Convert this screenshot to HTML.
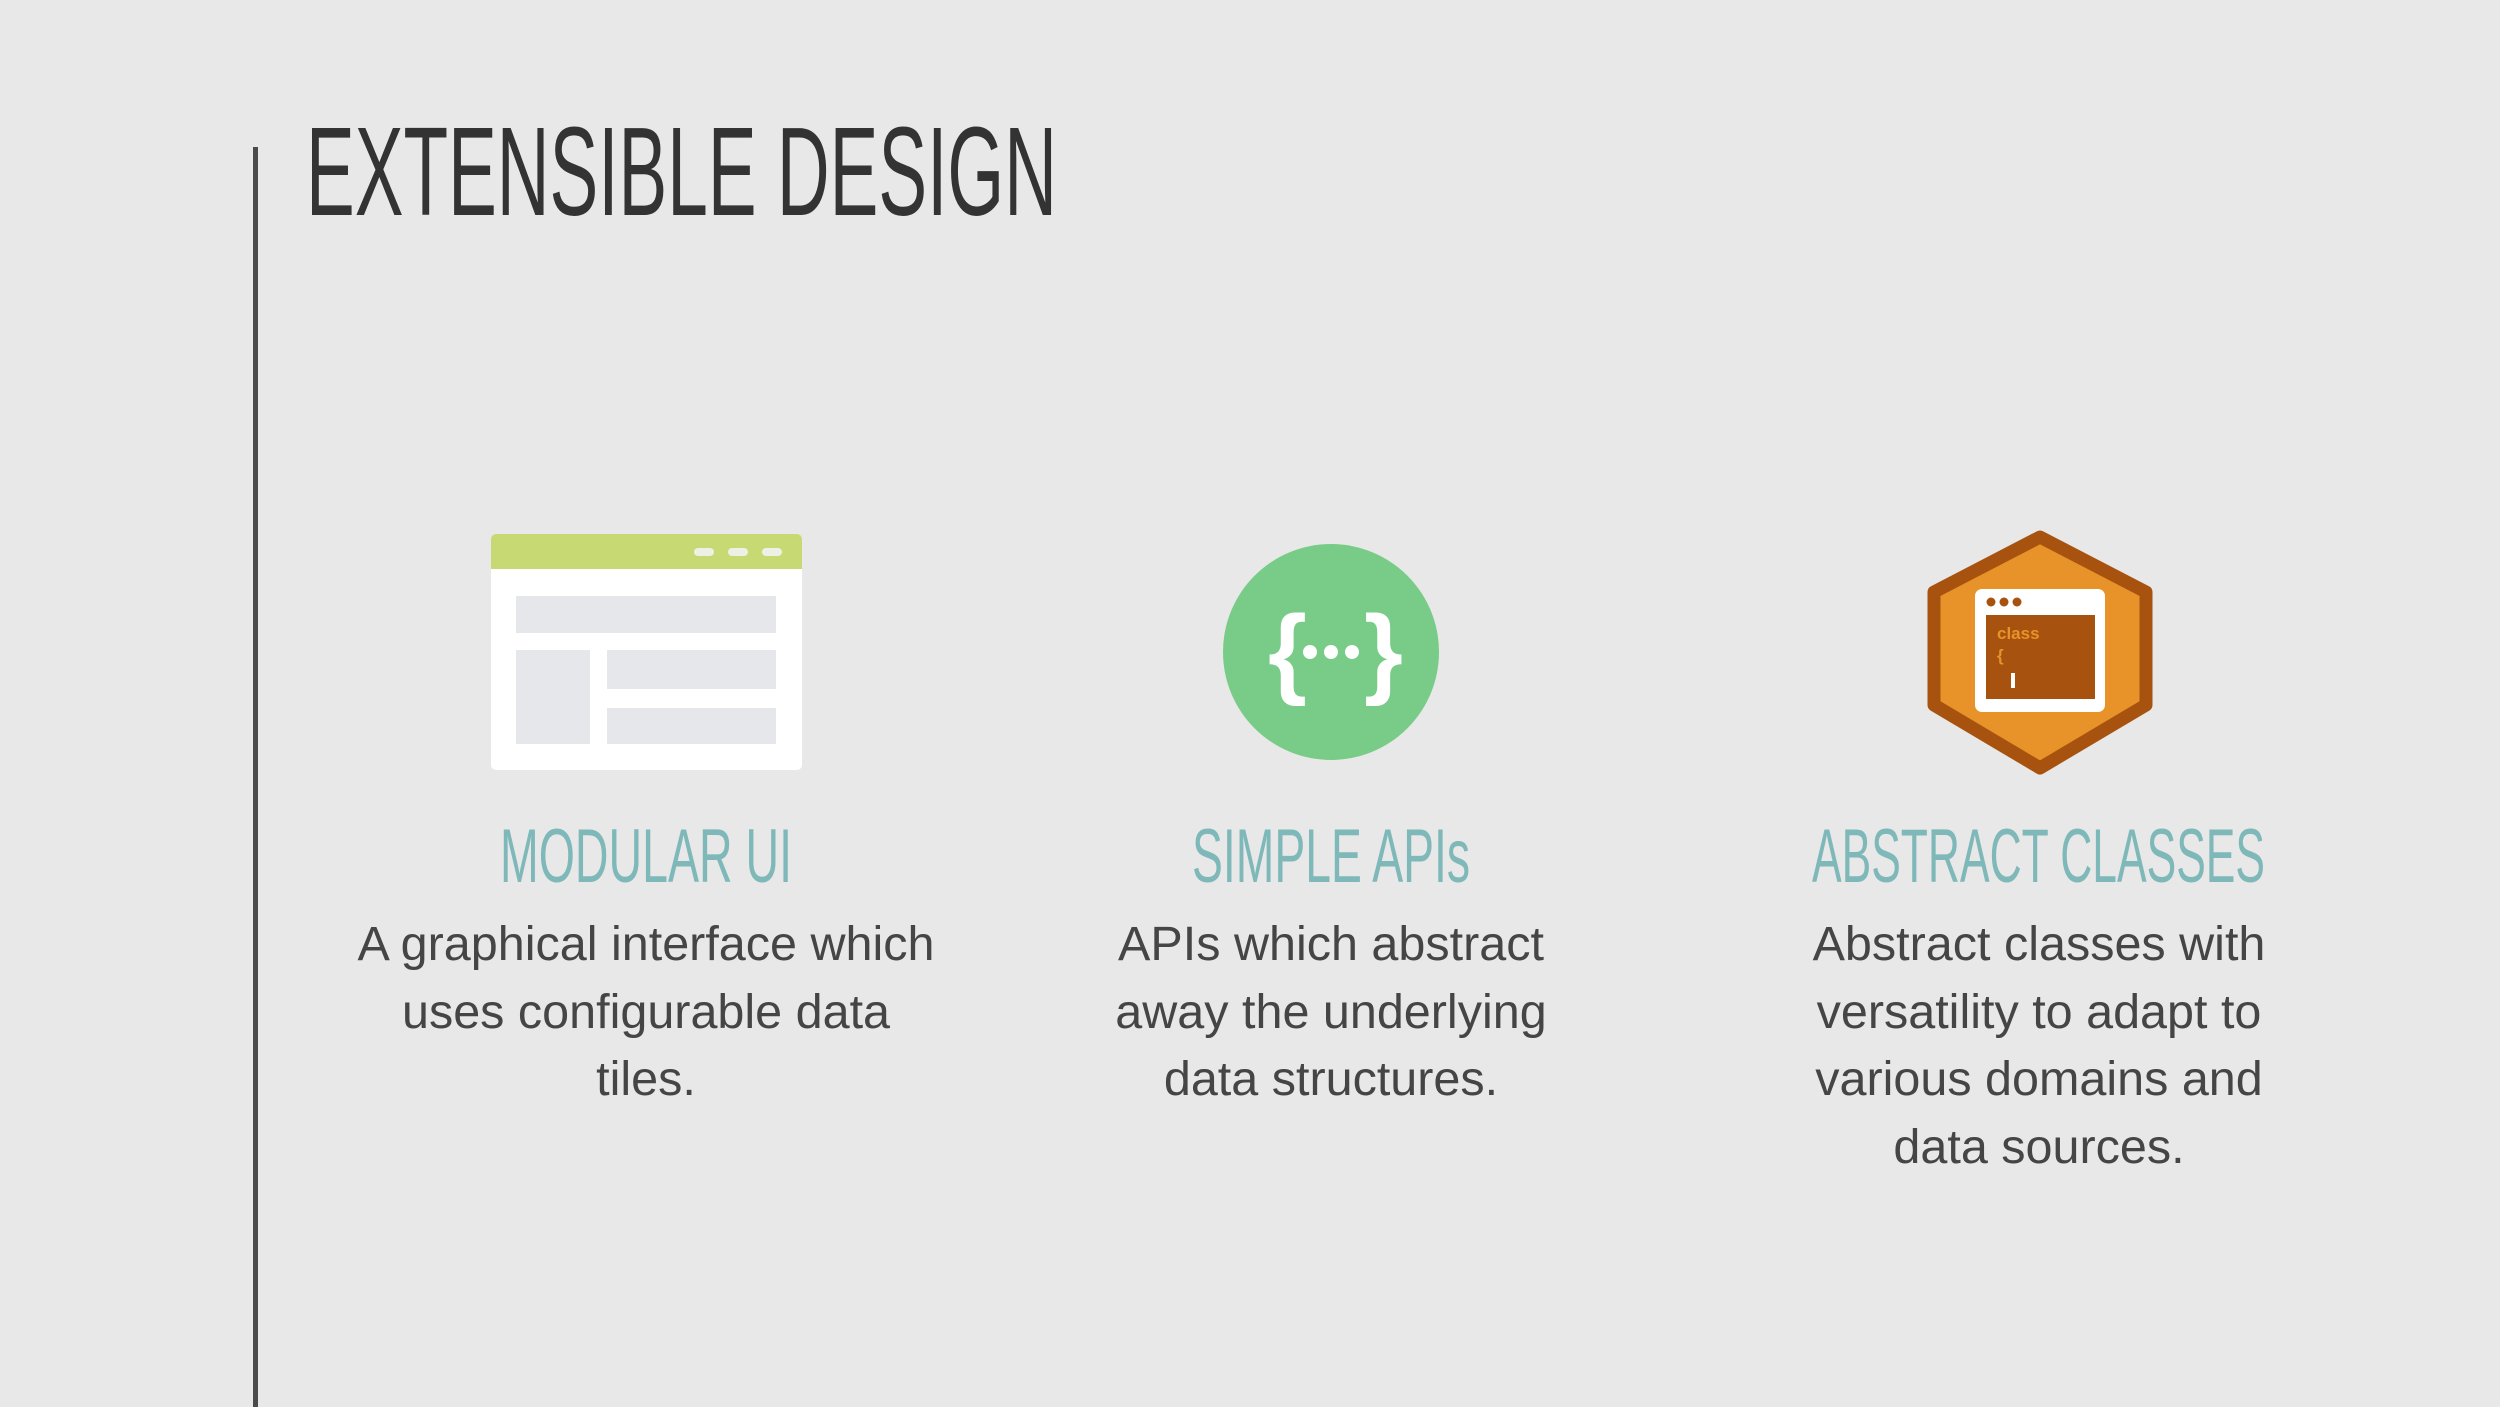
<!DOCTYPE html>
<html><head><meta charset="utf-8"><style>
body{margin:0;width:2500px;height:1406px;background:#e7e8e7;overflow:hidden;position:relative;font-family:"Liberation Sans",Arial,sans-serif}
.p{position:absolute;text-align:center;color:#454545;font-size:48.5px;line-height:67.5px;width:800px}
</style></head><body>
<div style="position:absolute;left:253px;top:147px;width:5px;height:1260px;background:#4a4a4a"></div>
<svg width="2500" height="1406" style="position:absolute;left:0;top:0">
<text x="306" y="215" font-family="Liberation Sans Narrow, Liberation Sans, sans-serif" font-size="126" textLength="751" lengthAdjust="spacingAndGlyphs" fill="#333">EXTENSIBLE DESIGN</text>
<g font-family="Liberation Sans Narrow, Liberation Sans, sans-serif" font-size="76" fill="#7fb8b9">
<text x="500" y="882" textLength="292" lengthAdjust="spacingAndGlyphs">MODULAR UI</text>
<text x="1192" y="882" textLength="278" lengthAdjust="spacingAndGlyphs">SIMPLE APIs</text>
<text x="1812" y="882" textLength="453" lengthAdjust="spacingAndGlyphs">ABSTRACT CLASSES</text>
</g>
<rect x="491" y="534" width="311" height="236" rx="5" fill="#fff"/>
<path d="M496 534 H797 a5 5 0 0 1 5 5 V569 H491 V539 a5 5 0 0 1 5 -5z" fill="#c7d972"/>
<g fill="#eef0e6"><rect x="694" y="548" width="20" height="8" rx="4"/><rect x="728" y="548" width="20" height="8" rx="4"/><rect x="762" y="548" width="20" height="8" rx="4"/></g>
<g fill="#e5e7ea"><rect x="516" y="596" width="260" height="37"/><rect x="516" y="650" width="74" height="94"/><rect x="607" y="650" width="169" height="39"/><rect x="607" y="708" width="169" height="36"/></g>
<circle cx="1331" cy="652" r="108" fill="#79cc87"/>
<text x="1268" y="685" font-size="100" font-weight="bold" fill="#fff" font-family="Liberation Sans, sans-serif">{</text>
<text x="1364" y="685" font-size="100" font-weight="bold" fill="#fff" font-family="Liberation Sans, sans-serif">}</text>
<g fill="#fff"><circle cx="1310" cy="652" r="7"/><circle cx="1331" cy="652" r="7"/><circle cx="1352" cy="652" r="7"/></g>
<polygon points="2040,537 2146,592 2146,705 2040,768 1934,705 1934,592" fill="#e8922a" stroke="#a7530f" stroke-width="13" stroke-linejoin="round"/>
<rect x="1975" y="589" width="130" height="123" rx="7" fill="#fff"/>
<rect x="1986" y="615" width="109" height="84" fill="#a7530f"/>
<g fill="#a7530f"><circle cx="1991" cy="602" r="4.5"/><circle cx="2004" cy="602" r="4.5"/><circle cx="2017" cy="602" r="4.5"/></g>
<text x="1997" y="639" font-size="17" font-weight="bold" fill="#e8922a" font-family="Liberation Sans, sans-serif">class</text>
<text x="1997" y="661" font-size="17" font-weight="bold" fill="#e8922a" font-family="Liberation Sans, sans-serif">{</text>
<rect x="2011" y="673" width="4" height="15" fill="#fff"/>
</svg>
<div class="p" style="left:246px;top:911px">A graphical interface which<br>uses configurable data<br>tiles.</div>
<div class="p" style="left:931px;top:911px">APIs which abstract<br>away the underlying<br>data structures.</div>
<div class="p" style="left:1639px;top:911px">Abstract classes with<br>versatility to adapt to<br>various domains and<br>data sources.</div>
</body></html>
